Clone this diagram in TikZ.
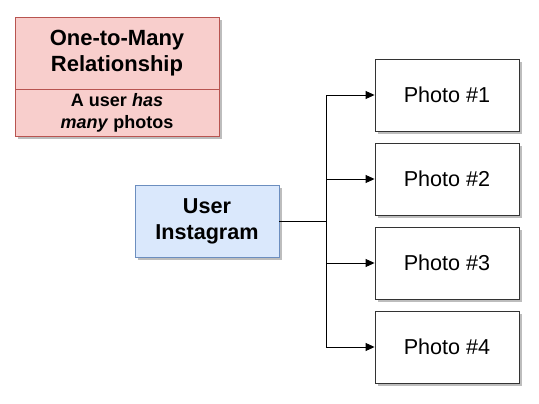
\documentclass[tikz,border=0pt]{standalone}
\usepackage{fontspec}
\setmainfont{Liberation Sans}
\usetikzlibrary{arrows.meta,backgrounds}
\definecolor{pinkfill}{HTML}{F8CECC}
\definecolor{pinkline}{HTML}{B85450}
\definecolor{bluefill}{HTML}{DAE8FC}
\definecolor{blueline}{HTML}{6C8EBF}
\definecolor{shadowgray}{HTML}{BDBDBD}
\begin{document}
\begin{tikzpicture}[x=1pt,y=-1pt,
  photobox/.style={draw=black!80,fill=white,line width=0.9pt,minimum width=144pt,minimum height=72pt,inner sep=0pt,font=\fontsize{21.6}{26}\selectfont},
  userbox/.style={draw=blueline,fill=bluefill,line width=0.9pt,minimum width=144pt,minimum height=72pt,inner sep=0pt,align=center,font=\fontsize{21.6}{26}\selectfont\bfseries},
  conn/.style={line width=0.9pt,draw=black},
  arr/.style={conn,-{Triangle[length=9pt,width=8pt]}},
  shadowfill/.style={fill=shadowgray}
]
\useasboundingbox (0,0) rectangle (539,404);
% title box
\node[draw=pinkline,fill=pinkfill,line width=0.9pt,minimum width=204pt,minimum height=72pt,inner sep=0pt,align=center,font=\fontsize{22}{26.5}\selectfont\bfseries] (title) at (117,53) {One-to-Many\\Relationship};
\node[draw=pinkline,fill=pinkfill,line width=0.9pt,minimum width=204pt,minimum height=47pt,inner sep=0pt,align=center,font=\fontsize{18}{22}\selectfont\bfseries] (desc) at (117,112.5) {A user \textit{has}\\\textit{many} photos};
% user
\node[userbox] (user) at (207,221) {User\\Instagram};
% photos
\node[photobox] (p1) at (447,95) {Photo \#1};
\node[photobox] (p2) at (447,179) {Photo \#2};
\node[photobox] (p3) at (447,263) {Photo \#3};
\node[photobox] (p4) at (447,347) {Photo \#4};
\begin{pgfonlayer}{background}
\foreach \n in {title,desc,user,p1,p2,p3,p4}
  \fill[shadowfill] ([shift={(3,3)}]\n.north west) rectangle ([shift={(3,3)}]\n.south east);
\end{pgfonlayer}
\coordinate (j) at (326.5,221);
\draw[conn] (user.east) -- (j);
\draw[arr] (j) |- (p1.west);
\draw[arr] (j) |- (p2.west);
\draw[arr] (j) |- (p3.west);
\draw[arr] (j) |- (p4.west);
\end{tikzpicture}
\end{document}
